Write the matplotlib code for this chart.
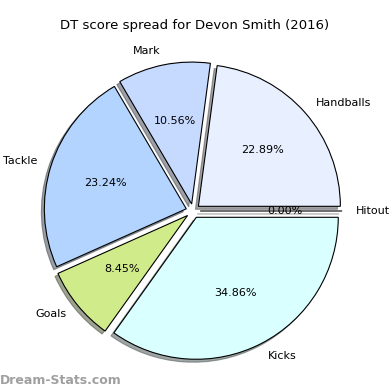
import matplotlib
matplotlib.use("Agg")
import matplotlib.pyplot as plt

labels = ["Handballs", "Mark", "Tackle", "Goals", "Kicks", "Hitout"]
values = [22.89, 10.56, 23.24, 8.45, 34.86, 0.00]
colors = ["#e8f0ff", "#c6d9ff", "#b3d4ff", "#d0eb8a", "#d9ffff", "#ffffff"]
explode = [0.05] * len(values)

fig = plt.figure(figsize=(3.9, 3.9), dpi=100)
ax = fig.add_axes([0.04, 0.004, 0.91, 0.91])
ax.pie(values, labels=labels, colors=colors, explode=explode, autopct="%1.2f%%",
       shadow=dict(ox=-0.015, oy=-0.015), startangle=0, counterclock=True,
       wedgeprops=dict(edgecolor="black", linewidth=0.8),
       textprops=dict(fontsize=8))
ax.set_aspect("equal")
fig.text(0.5, 0.935, "DT score spread for Devon Smith (2016)", ha="center", va="center", fontsize=9.5)
fig.text(0.0, 0.025, "Dream-Stats.com", ha="left", va="center", fontsize=9, color="#a0a0a0", fontweight="bold")
fig.savefig("out.png", dpi=100)
